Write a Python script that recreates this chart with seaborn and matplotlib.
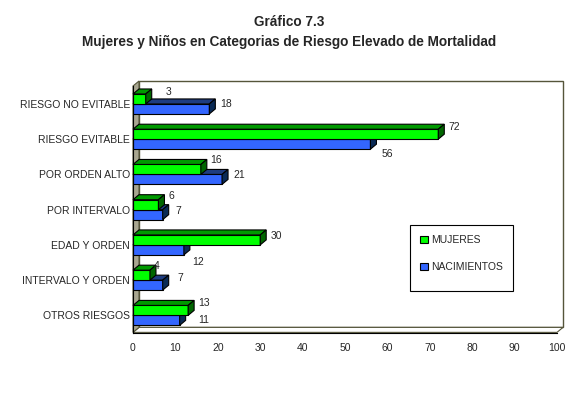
import matplotlib
matplotlib.use('Agg')
import matplotlib.pyplot as plt
from matplotlib.patches import Polygon, Patch, Rectangle
import seaborn as sns
import pandas as pd

categorias = ['RIESGO NO EVITABLE', 'RIESGO EVITABLE', 'POR ORDEN ALTO', 'POR INTERVALO',
              'EDAD Y ORDEN', 'INTERVALO Y ORDEN', 'OTROS RIESGOS']
mujeres = [3, 72, 16, 6, 30, 4, 13]
nacimientos = [18, 56, 21, 7, 12, 7, 11]
series = ['MUJERES', 'NACIMIENTOS']
xticks = list(range(0, 101, 10))

# where the value labels sit, in pixels from bar end / bar middle (down is positive)
nudge_muj = [(20, -7), (10, -7), (9, -9), (10, -9), (10, -4), (4, -9), (10, -7)]
nudge_nac = [(11, -5), (11, 10), (11, -4), (13, -4), (8, 12), (15, -7), (19, 0)]

front = {'MUJERES': '#00ff00', 'NACIMIENTOS': '#3366ff'}
top = {'MUJERES': '#009900', 'NACIMIENTOS': '#1e3c80'}
side = {'MUJERES': '#006600', 'NACIMIENTOS': '#0a2a55'}

df = pd.DataFrame({
    'cat': categorias * 2,
    'serie': [series[0]] * len(categorias) + [series[1]] * len(categorias),
    'valor': mujeres + nacimientos,
})

sns.set_style('white')
plt.rcParams['font.family'] = ['Liberation Sans', 'DejaVu Sans']

fig = plt.figure(figsize=(5.78, 3.93), dpi=100)
ax = fig.add_axes([133 / 578, 60 / 393, 424 / 578, 247 / 393])

sns.barplot(data=df, y='cat', x='valor', hue='serie', order=categorias, hue_order=series,
            palette=front, orient='h', width=0.566, legend=False, ax=ax,
            edgecolor='black', linewidth=0.8, saturation=1)
bars = list(ax.patches)

ylo, yhi = 6.482, -0.509
ax.set_xlim(0, 100)
ax.set_ylim(ylo, yhi)
dx = 6 / 4.24
dy = 5 / 35.33

# walls
ax.add_patch(Polygon([(dx, yhi - dy), (100 + dx, yhi - dy), (100 + dx, ylo - dy), (dx, ylo - dy)],
                     closed=True, facecolor='white', edgecolor='#55553a', lw=1, clip_on=False, zorder=0))
ax.add_patch(Polygon([(0, ylo), (100, ylo), (100 + dx, ylo - dy), (dx, ylo - dy)],
                     closed=True, facecolor='white', edgecolor='#55553a', lw=0.8, clip_on=False, zorder=0.5))
ax.add_patch(Polygon([(0, ylo), (0, yhi), (dx, yhi - dy), (dx, ylo - dy)],
                     closed=True, facecolor='#a8a690', edgecolor='#55553a', lw=0.8, clip_on=False, zorder=0.6))

# 3d faces
n = len(categorias)
for k, p in enumerate(bars):
    s = series[k // n]
    z = 2 if s == 'NACIMIENTOS' else 3
    x0, y0 = p.get_x(), p.get_y()
    w, h = p.get_width(), p.get_height()
    yt, yb = y0, y0 + h
    p.set_zorder(z)
    ax.add_patch(Polygon([(x0, yt), (x0 + w, yt), (x0 + w + dx, yt - dy), (x0 + dx, yt - dy)],
                         closed=True, facecolor=top[s], edgecolor='black', lw=0.8, zorder=z, clip_on=False))
    ax.add_patch(Polygon([(x0 + w, yt), (x0 + w + dx, yt - dy), (x0 + w + dx, yb - dy), (x0 + w, yb)],
                         closed=True, facecolor=side[s], edgecolor='black', lw=0.8, zorder=z, clip_on=False))
    vals = mujeres if s == 'MUJERES' else nacimientos
    nud = nudge_muj if s == 'MUJERES' else nudge_nac
    i = k % n
    ax.annotate(str(vals[i]), (x0 + w, yt + h / 2), xytext=(nud[i][0], -nud[i][1]),
                textcoords='offset pixels', ha='left', va='center', fontsize=7.5,
                zorder=5, annotation_clip=False)

ax.set_xticks(xticks)
ax.set_xticklabels([str(t) for t in xticks], fontsize=7.5)
ax.set_yticks(range(n))
ax.set_yticklabels(categorias, fontsize=7.5)
ax.set_yticks([i - 0.5 for i in range(n + 1)], minor=True)
ax.tick_params(axis='y', which='major', length=0, pad=2)
ax.tick_params(axis='y', which='minor', length=5, width=0.8, color='black', direction='out')
ax.tick_params(axis='x', length=4, width=0.8, color='black', direction='out', pad=3)
ax.set_xlabel('')
ax.set_ylabel('')
for sp in ['top', 'right']:
    ax.spines[sp].set_visible(False)
for sp in ['left', 'bottom']:
    ax.spines[sp].set_color('black')
    ax.spines[sp].set_linewidth(0.8)
    ax.spines[sp].set_zorder(4)

# legend box
fig.patches.append(Rectangle((410 / 578, 102 / 393), 103 / 578, 66 / 393, transform=fig.transFigure,
                             facecolor='white', edgecolor='black', lw=0.8, zorder=1))
handles = [Patch(facecolor=front[s], edgecolor='black', lw=0.8) for s in series]
leg = fig.legend(handles, series, loc='upper left', bbox_to_anchor=(410 / 578, 1 - 225 / 393),
                 frameon=False, fontsize=7.5,
                 handlelength=0.7, handleheight=0.7, handletextpad=0.3,
                 labelspacing=1.6, borderpad=1.0, borderaxespad=0)

tfont = ['Liberation Sans Narrow', 'Liberation Sans']
fig.text(0.5, 1 - 22 / 393, 'Gráfico 7.3', ha='center', va='center', fontsize=9.8,
         fontweight='bold', family=tfont)
fig.text(0.5, 1 - 42 / 393, 'Mujeres y Niños en Categorias de Riesgo Elevado de Mortalidad',
         ha='center', va='center', fontsize=9.8, fontweight='bold', family=tfont)

fig.savefig('out.png', dpi=100)
